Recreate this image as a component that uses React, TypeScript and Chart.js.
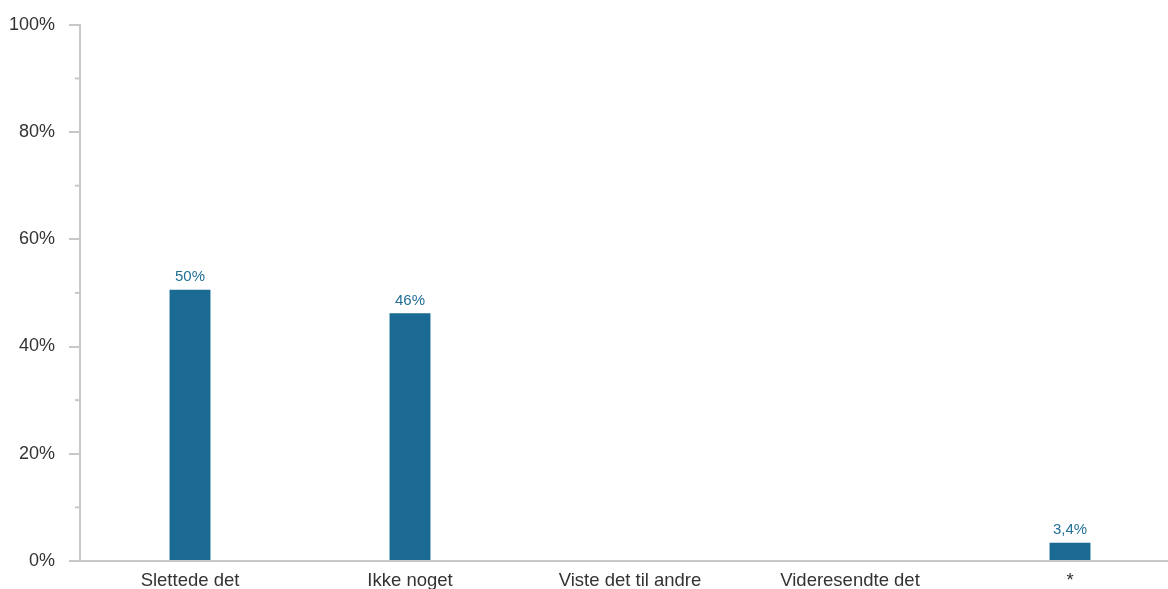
import React, { useEffect, useRef } from "react";
import { Chart, registerables } from "chart.js";

Chart.register(...registerables);

const categories = ["Slettede det", "Ikke noget", "Viste det til andre", "Videresendte det", "*"];
const values = [50.6, 46.2, 0, 0, 3.4];
const valueLabels = ["50%", "46%", "", "", "3,4%"];
const yTicks = [0, 20, 40, 60, 80, 100];
const yMinorTicks = [10, 30, 50, 70, 90];

const BAR = "#1a6a93";
const AXIS = "#c8c8c8";
const TEXT = "#333333";
const FONT = "'Liberation Sans', Arial, sans-serif";

export default function App() {
  const ref = useRef<HTMLCanvasElement | null>(null);
  useEffect(() => {
    if (!ref.current) return;
    const minorTicks = {
      id: "minorTicks",
      afterDraw(chart: any) {
        const y = chart.scales.y;
        const ctx = chart.ctx;
        ctx.save();
        ctx.strokeStyle = AXIS;
        ctx.lineWidth = 2;
        yMinorTicks.forEach((v) => {
          const py = y.getPixelForValue(v);
          ctx.beginPath();
          ctx.moveTo(chart.chartArea.left - 5, py);
          ctx.lineTo(chart.chartArea.left, py);
          ctx.stroke();
        });
        ctx.restore();
      },
    };
    const dataLabels = {
      id: "dataLabels",
      afterDatasetsDraw(chart: any) {
        const ctx = chart.ctx;
        const meta = chart.getDatasetMeta(0);
        ctx.save();
        ctx.fillStyle = "#236f97";
        ctx.font = `15px ${FONT}`;
        ctx.textAlign = "center";
        ctx.textBaseline = "bottom";
        meta.data.forEach((el: any, i: number) => {
          const t = valueLabels[i];
          if (!t) return;
          ctx.fillText(t, el.x, el.y - 5);
        });
        ctx.restore();
      },
    };
    const chart = new Chart(ref.current, {
      type: "bar",
      data: {
        labels: categories,
        datasets: [
          {
            data: values,
            backgroundColor: BAR,
            barPercentage: 0.186,
            categoryPercentage: 1,
          },
        ],
      },
      options: {
        animation: false,
        responsive: false,
        layout: { padding: { top: 21, left: 0, right: 0, bottom: 0 } },
        plugins: { legend: { display: false }, tooltip: { enabled: false } },
        scales: {
          x: {
            grid: { display: false, drawTicks: false },
            border: { display: true, color: AXIS, width: 2 },
            ticks: { color: TEXT, font: { family: FONT, size: 18.5 }, padding: 9, maxRotation: 0, autoSkip: false },
            afterFit: (scale: any) => {
              scale.height = 28;
            },
          },
          y: {
            min: 0,
            max: 100,
            afterBuildTicks: (scale: any) => {
              scale.ticks = yTicks.map((v) => ({ value: v }));
            },
            afterFit: (scale: any) => {
              scale.width = 80;
            },
            grid: { drawOnChartArea: false, drawTicks: true, tickLength: 11, color: AXIS, lineWidth: 2 },
            border: { display: true, color: AXIS, width: 2 },
            ticks: {
              color: TEXT,
              font: { family: FONT, size: 18 },
              padding: 14,
              callback: (v: any) => `${v}%`,
            },
          },
        },
      },
      plugins: [minorTicks, dataLabels],
    });
    return () => chart.destroy();
  }, []);
  return (
    <div style={{ width: 1168, height: 589, overflow: "hidden", position: "absolute", left: 0, top: 0, background: "#fff" }}>
      <canvas ref={ref} width={1180} height={589} style={{ display: "block" }} />
    </div>
  );
}
